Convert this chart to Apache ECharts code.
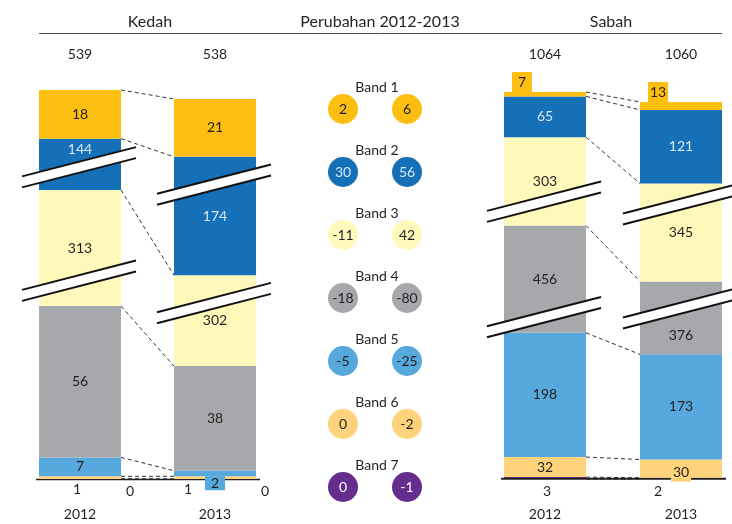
<!DOCTYPE html>
<html>
<head>
<meta charset="utf-8">
<script src="https://cdn.jsdelivr.net/npm/echarts@6/dist/echarts.min.js"></script>
<style>
  html, body { margin: 0; padding: 0; background: #fff; }
  #chart { width: 732px; height: 524px; }
</style>
</head>
<body>
<div id="chart"></div>
<script>
// ---- data ----
const bands = ['Band 1', 'Band 2', 'Band 3', 'Band 4', 'Band 5', 'Band 6', 'Band 7'];
const years = ['2012', '2013'];
const regions = ['Kedah', 'Sabah'];
const changeTitle = 'Perubahan 2012-2013';

const kedah2012 = [18, 144, 313, 56, 7, 1, 0];
const kedah2013 = [21, 174, 302, 38, 2, 1, 0];
const sabah2012 = [7, 65, 303, 456, 198, 32, 3];
const sabah2013 = [13, 121, 345, 376, 173, 30, 2];

const kedahTotals = [539, 538];
const sabahTotals = [1064, 1060];

const kedahChange = [2, 30, -11, -18, -5, 0, 0];
const sabahChange = [6, 56, 42, -80, -25, -2, -1];

// ---- styling ----
const FONT = 'Lato, "Noto Sans", sans-serif';
const INK = '#231F20';
const COLORS = ['#FDBE12', '#1570B8', '#FFF8BB', '#A7A8AB', '#56A8DD', '#FFD37C', '#662D8F'];
const TEXT_COLORS = [INK, '#D8E7F5', INK, INK, INK, INK, '#FFFFFF'];

// value-axis breaks collapse the tall middle bands of each column
const axisBreaks = [
  [{ start: 71.5, end: 345.5, gap: 4 }, { start: 383.5, end: 512.5, gap: 4 }],
  [{ start: 62, end: 335, gap: 4 }, { start: 374, end: 509, gap: 4 }],
  [{ start: 250, end: 552, gap: 17 }, { start: 719, end: 898, gap: 17 }],
  [{ start: 272, end: 546, gap: 18 }, { start: 699, end: 901, gap: 18 }]
];

const BAR_W = 82;
const BASE_Y = 479;
const columns = [
  { values: kedah2012, total: kedahTotals[0], year: years[0], left: 39, top: 90 },
  { values: kedah2013, total: kedahTotals[1], year: years[1], left: 174, top: 99 },
  { values: sabah2012, total: sabahTotals[0], year: years[0], left: 504, top: 92 },
  { values: sabah2013, total: sabahTotals[1], year: years[1], left: 640, top: 102 }
];

const chart = echarts.init(document.getElementById('chart'), null, { renderer: 'canvas' });

const grid = [], xAxis = [], yAxis = [], series = [];

function segmentLabel(col, b) {
  const base = {
    show: true, position: 'inside', color: TEXT_COLORS[b],
    fontSize: 14, fontFamily: FONT
  };
  const isKedah = col < 2;
  if (b === 6) {
    // Band 7 value sits below the column
    const dx = isKedah ? 50 : (col === 2 ? 2 : -23);
    return Object.assign(base, { position: 'bottom', distance: 5, offset: [dx, 0], color: INK });
  }
  if (b === 5 && isKedah) {
    return Object.assign(base, { position: 'bottom', distance: 3, offset: [col === 0 ? -3 : -27, 0] });
  }
  if (b === 5 && col === 3) {
    return Object.assign(base, { offset: [0, 4], backgroundColor: COLORS[5], padding: [2, 2] });
  }
  if (b === 4 && col === 1) {
    return Object.assign(base, {
      position: 'bottom', distance: 0, backgroundColor: COLORS[4],
      padding: [1, 6, 0, 6], lineHeight: 13
    });
  }
  if (b === 0 && !isKedah) {
    return Object.assign(base, {
      position: [18, 0], align: 'center', verticalAlign: 'bottom',
      backgroundColor: COLORS[0], width: 20, height: 20, lineHeight: 20
    });
  }
  // keep labels clear of the break marks
  if (b === 1 && col === 0) return Object.assign(base, { offset: [0, -15] });
  if (b === 3 && col === 3) return Object.assign(base, { offset: [0, 18] });
  return base;
}

function renderBreak(params, api) {
  const cs = params.coordSys;
  const yA = api.coord([0, api.value(1)])[1];
  const yB = api.coord([0, api.value(2)])[1];
  const yc = (yA + yB) / 2;
  const cx = cs.x + cs.width / 2;
  const x1 = cs.x - 17, x2 = cs.x + cs.width + 15;
  const k = 0.257, h = 5.5;
  const yAt = (x, off) => yc + off - k * (x - cx);
  return {
    type: 'group',
    children: [
      { type: 'polygon', shape: { points: [[x1, yAt(x1, -h)], [x2, yAt(x2, -h)], [x2, yAt(x2, h)], [x1, yAt(x1, h)]] },
        style: { fill: '#fff' } },
      { type: 'line', shape: { x1: x1, y1: yAt(x1, -h), x2: x2, y2: yAt(x2, -h) },
        style: { stroke: '#111', lineWidth: 2 } },
      { type: 'line', shape: { x1: x1, y1: yAt(x1, h), x2: x2, y2: yAt(x2, h) },
        style: { stroke: '#111', lineWidth: 2 } }
    ]
  };
}

columns.forEach((c, i) => {
  grid.push({ left: c.left, top: c.top, width: BAR_W, height: BASE_Y - c.top });
  xAxis.push({
    type: 'category', gridIndex: i, data: [c.year], position: 'bottom',
    axisLine: { show: false }, axisTick: { show: false },
    axisLabel: { margin: 28, fontSize: 14, color: INK, fontFamily: FONT }
  });
  xAxis.push({
    type: 'category', gridIndex: i, data: [String(c.total)], position: 'top',
    axisLine: { show: false }, axisTick: { show: false },
    axisLabel: { margin: c.top - 61, fontSize: 14, color: INK, fontFamily: FONT }
  });
  yAxis.push({
    type: 'value', gridIndex: i, min: 0, max: c.total, show: false,
    splitLine: { show: false },
    breaks: axisBreaks[i],
    breakArea: { show: false }
  });
  // stacked from Band 7 at the bottom up to Band 1
  for (let b = bands.length - 1; b >= 0; b--) {
    series.push({
      type: 'bar', name: bands[b], xAxisIndex: 2 * i, yAxisIndex: i,
      stack: 'col' + i, barWidth: '100%',
      data: [c.values[b]],
      itemStyle: { color: COLORS[b] },
      label: segmentLabel(i, b),
      z: b === 6 ? 1 : 4,
      emphasis: { disabled: true }, silent: true
    });
  }
  series.push({
    type: 'custom', xAxisIndex: 2 * i, yAxisIndex: i, z: 6, silent: true,
    data: axisBreaks[i].map(br => [0, br.start, br.end]),
    renderItem: renderBreak
  });
});

// middle column: change per band
grid.push({ left: 343, width: 64, top: 77.5, height: 441 });
xAxis.push({ type: 'value', gridIndex: 4, min: 0, max: 1, show: false, splitLine: { show: false } });
yAxis.push({ type: 'category', gridIndex: 4, data: bands, inverse: true, show: false });

const changeData = [];
bands.forEach((n, b) => {
  [kedahChange[b], sabahChange[b]].forEach((v, side) => {
    changeData.push({
      value: [side, b, v],
      itemStyle: { color: COLORS[b], opacity: 1 },
      label: { color: TEXT_COLORS[b] }
    });
  });
});
series.push({
  type: 'scatter', xAxisIndex: 8, yAxisIndex: 4, symbolSize: 30, z: 4,
  data: changeData, silent: true,
  itemStyle: { opacity: 1 },
  label: { show: true, position: 'inside', fontSize: 14, fontFamily: FONT, formatter: p => String(p.value[2]) },
  emphasis: { disabled: true }
});
series.push({
  type: 'scatter', xAxisIndex: 8, yAxisIndex: 4, symbolSize: 1, z: 4, silent: true,
  itemStyle: { color: 'rgba(0,0,0,0)', opacity: 1 },
  data: bands.map((n, b) => ({ value: [0.53, b], name: n })),
  label: { show: true, position: 'inside', offset: [0, -22], fontSize: 14, fontFamily: FONT, color: INK, formatter: '{b}' },
  emphasis: { disabled: true }
});

const headerText = (id, text, x) => ({
  id: id, type: 'text', x: x, y: 22, z: 5,
  style: {
    text: text, textAlign: 'center', textVerticalAlign: 'middle',
    fontSize: 16, fontFamily: FONT, fontWeight: 'normal', fill: INK
  }
});

chart.setOption({
  animation: false,
  backgroundColor: '#fff',
  grid: grid, xAxis: xAxis, yAxis: yAxis, series: series,
  graphic: [
    headerText('hdr-kedah', regions[0], 150),
    headerText('hdr-change', changeTitle, 380),
    headerText('hdr-sabah', regions[1], 611),
    { id: 'hdr-rule', type: 'line', z: 5, shape: { x1: 39, y1: 33.5, x2: 722, y2: 33.5 },
      style: { stroke: '#4a4a4a', lineWidth: 1 } }
  ]
});

// connectors between matching band boundaries and the shared baselines
function cumulative(values) {
  const out = [0];
  for (let b = values.length - 1; b >= 0; b--) out.push(out[out.length - 1] + values[b]);
  return out;
}
const extra = [];
[[0, 1], [2, 3]].forEach(([l, r], side) => {
  const cl = cumulative(columns[l].values), cr = cumulative(columns[r].values);
  cl.forEach((v, k) => {
    const y1 = chart.convertToPixel({ yAxisIndex: l }, v);
    const y2 = chart.convertToPixel({ yAxisIndex: r }, cr[k]);
    extra.push({
      id: 'link-' + side + '-' + k, type: 'line', z: 3,
      shape: { x1: columns[l].left + BAR_W, y1: y1, x2: columns[r].left, y2: y2 },
      style: { stroke: '#333', lineWidth: 1, lineDash: [4, 3] }
    });
  });
  const yb = chart.convertToPixel({ yAxisIndex: l }, 0) + (side === 0 ? 0.5 : -0.3);
  extra.push({
    id: 'base-' + side, type: 'line', z: 3,
    shape: { x1: columns[l].left - 3, y1: yb, x2: columns[r].left + BAR_W + 4, y2: yb },
    style: { stroke: INK, lineWidth: side === 0 ? 1.5 : 2 }
  });
});
chart.setOption({ graphic: extra });
</script>
</body>
</html>
